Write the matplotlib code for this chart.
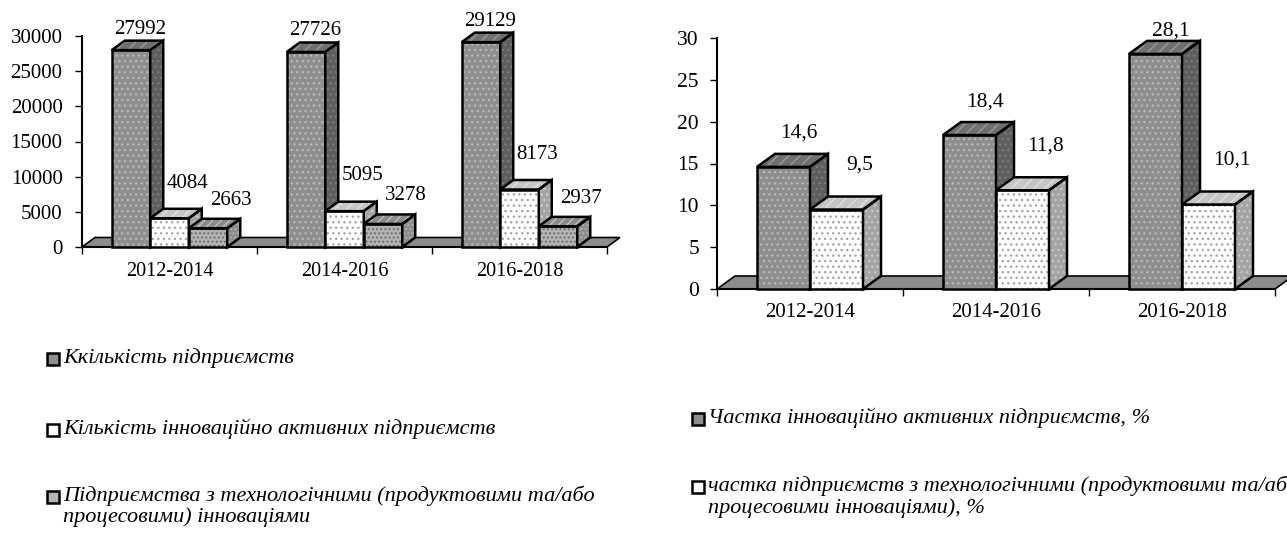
import numpy as np
import matplotlib
matplotlib.use('Agg')
from matplotlib import pyplot as plt
from matplotlib.patches import Polygon, Rectangle

# data
periods = ['2012-2014', '2014-2016', '2016-2018']
n_all = [27992, 27726, 29129]
n_active = [4084, 5095, 8173]
n_tech = [2663, 3278, 2937]
share_active = [14.6, 18.4, 28.1]
share_tech = [9.5, 11.8, 10.1]

left_names = ['Ккількість підприємств',
              'Кількість інноваційно активних підприємств',
              'Підприємства з технологічними (продуктовими та/або\nпроцесовими) інноваціями']
right_names = ['Частка інноваційно активних підприємств, %',
               'частка підприємств з технологічними (продуктовими та/або\nпроцесовими інноваціями), %']

plt.rcParams['font.family'] = ['Liberation Serif', 'DejaVu Serif']
plt.rcParams['hatch.linewidth'] = 1.0

W, H = 1287, 538
fig = plt.figure(figsize=(W / 100, H / 100), dpi=100)

# styles: front, front hatch colour, top, top hatch colour, side, side hatch colour
styles = [
    dict(front='#8e8e8e', fh='#b8b8b8', fhatch='...', top='#707070', th='#9a9a9a', thatch='///',
         side='#5e5e5e', sh='#7a7a7a', shatch='...'),
    dict(front='#ffffff', fh='#a8a8a8', fhatch='...', top='#c6c6c6', th='#e0e0e0', thatch='///',
         side='#a4a4a4', sh='#c8c8c8', shatch='...'),
    dict(front='#b4b4b4', fh='#6e6e6e', fhatch='....', top='#8a8a8a', th='#bdbdbd', thatch='////',
         side='#8c8c8c', sh='#b0b0b0', shatch='....'),
]


def face(ax, pts, fc, hc, hatch, z):
    ax.add_patch(Polygon(pts, closed=True, facecolor=fc, edgecolor=hc, hatch=hatch,
                         lw=0, zorder=z, clip_on=False))
    ax.add_patch(Polygon(pts, closed=True, facecolor='none', edgecolor='black',
                         lw=1.8, zorder=z + 0.01, clip_on=False, joinstyle='miter'))


def bar3d(ax, x, h, w, dx, dy, st, z):
    l, r = x - w / 2, x + w / 2
    ax.bar(x, h, w, color=st['front'], edgecolor=st['fh'], hatch=st['fhatch'], lw=0,
           zorder=z, clip_on=False)
    ax.bar(x, h, w, fill=False, edgecolor='black', lw=1.8, zorder=z + 0.01, clip_on=False)
    face(ax, [(l, h), (r, h), (r + dx, h + dy), (l + dx, h + dy)],
         st['top'], st['th'], st['thatch'], z + 0.02)
    face(ax, [(r, 0), (r + dx, dy), (r + dx, h + dy), (r, h)],
         st['side'], st['sh'], st['shatch'], z + 0.02)


def setup(ax, ymax, step, dx, dy):
    ax.set_xlim(-0.5, 2.5)
    ax.set_ylim(0, ymax)
    for s in ['top', 'right']:
        ax.spines[s].set_visible(False)
    ax.spines['left'].set_linewidth(1.5)
    ax.spines['bottom'].set_linewidth(1.5)
    ax.set_yticks(np.arange(0, ymax + 1, step))
    ax.set_xticks(range(3))
    ax.set_xticklabels(periods)
    ax.set_xticks([-0.5, 0.5, 1.5, 2.5], minor=True)
    ax.tick_params(axis='x', which='major', length=0)
    ax.tick_params(axis='x', which='minor', length=5, width=1)
    ax.tick_params(axis='y', length=5, width=1)
    # floor
    ax.add_patch(Polygon([(-0.5, 0), (2.5, 0), (2.5 + dx, dy), (-0.5 + dx, dy)], closed=True,
                         facecolor='#8c8c8c', edgecolor='black', lw=1.2, zorder=1,
                         clip_on=False))


# ---- left chart
ax1 = fig.add_axes([82 / W, (H - 247) / H, 525 / W, 211 / H])
w1 = 0.22
dx1, dy1 = 13 / 175, 9.5 * 30000 / 211
setup(ax1, 30000, 5000, dx1, dy1)
ax1.tick_params(axis='y', labelsize=15, pad=9)
ax1.tick_params(axis='x', which='major', labelsize=14.5, pad=11)
xs = np.arange(3)
left_series = [n_all, n_active, n_tech]
lab_off1 = [(0.05, 3000), (0.103, 5000), (0.131, 4000)]
for g in range(3):
    for i, ser in enumerate(left_series):
        x = xs[g] + (i - 1) * w1
        bar3d(ax1, x, ser[g], w1, dx1, dy1, styles[i], 3 + g * 3 + i)
        ox, oy = lab_off1[i]
        ax1.text(x + ox, ser[g] + oy, str(ser[g]), ha='center', va='center', fontsize=15,
                 zorder=30, clip_on=False)

# ---- right chart
ax2 = fig.add_axes([717 / W, (H - 289) / H, 558 / W, 251 / H])
w2 = 0.285
dx2, dy2 = 18 / 186, 13 * 30 / 251
setup(ax2, 30, 5, dx2, dy2)
ax2.tick_params(axis='y', labelsize=15.5, pad=8)
ax2.tick_params(axis='x', which='major', labelsize=15, pad=10)
right_series = [share_active, share_tech]
lab_off2 = [(0.081, 4.0), (0.124, 5.3)]
for g in range(3):
    for i, ser in enumerate(right_series):
        x = xs[g] + (i - 0.5) * w2
        bar3d(ax2, x, ser[g], w2, dx2, dy2, styles[i], 3 + g * 3 + i)
        ox, oy = lab_off2[i]
        ax2.text(x + ox, min(ser[g] + oy, 30.8), ('%.1f' % ser[g]).replace('.', ','),
                 ha='center', va='center', fontsize=15.5, zorder=30, clip_on=False)


# ---- legends
def legend_entry(x, y, text, st, ls):
    # x: left of square, y: centre of first line (pixels from top)
    fig.patches.append(Rectangle((x / W, (H - y - 6) / H), 12 / W, 12 / H,
                                 transform=fig.transFigure, facecolor=st['front'],
                                 edgecolor='black', lw=1.8))
    fig.text((x + 16) / W, (H - y + 11) / H, text, fontsize=16, style='italic',
             ha='left', va='top', linespacing=ls)


for name, y, st in zip(left_names, [359, 430, 497], styles):
    legend_entry(47, y, name, st, 1.05)

for name, y, st in zip(right_names, [419, 487], styles):
    legend_entry(692, y, name, st, 1.12)

plt.savefig('out.png', dpi=100)
